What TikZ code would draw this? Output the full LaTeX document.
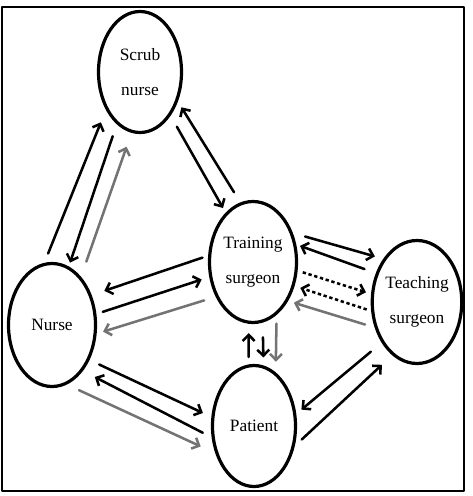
\documentclass[tikz,border=0pt]{standalone}
\usepackage{fontspec}
\setmainfont{Liberation Serif}
\usetikzlibrary{arrows.meta,shapes.geometric}

\begin{document}
\begin{tikzpicture}[x=0.75pt, y=-0.75pt, line cap=round, line join=round,
		>={Straight Barb[length=4.5pt,width=9pt]},
		actor/.style={ellipse, draw, line width=2.4pt, inner sep=0pt, align=center,
			font=\fontsize{13}{26.5}\selectfont},
		flowline/.style={->, line width=1.9pt},
		flowgray/.style={->, line width=1.9pt, black!55},
		flowdot/.style={->, line width=1.9pt, line cap=butt, dash pattern=on 2.5pt off 2pt}]
		\useasboundingbox (0,0) rectangle (472,496);
		% frame
		\draw [line width=1.6pt, line cap=butt] (2,7) rectangle (464,491);
		% actors
		\node [actor, minimum width=62.25pt, minimum height=90.75pt] (scrub) at (140,72) {Scrub\\nurse};
		\node [actor, minimum width=65.25pt, minimum height=90.75pt] (training) at (253,262) {Training\\surgeon};
		\node [actor, minimum width=65.25pt, minimum height=92.25pt] (teaching) at (417,302) {Teaching\\surgeon};
		\node [actor, minimum width=65.25pt, minimum height=92.25pt] (nurse) at (52,325) {Nurse};
		\node [actor, minimum width=62.25pt, minimum height=90.75pt] (patient) at (254,426) {Patient};
		% nurse and scrub nurse
		\draw [flowline, shorten <=7.5pt, shorten >=10pt] (nurse.97) -- (scrub.228);
		\draw [flowline, shorten <=9.5pt, shorten >=3pt] (scrub.246) -- (nurse.74);
		\draw [flowgray, shorten <=12pt, shorten >=11pt] (nurse.59) -- (scrub.262);
		% scrub nurse and training surgeon
		\draw [flowline, shorten <=9.5pt, shorten >=4pt] (scrub.305) -- (training.119);
		\draw [flowline, shorten <=9pt, shorten >=5pt] (training.102) -- (scrub.322);
		% training and teaching surgeon
		\draw [flowline, shorten <=9.5pt, shorten >=6.5pt] (training.36) -- (teaching.128);
		\draw [flowline, shorten <=9pt, shorten >=3pt] (teaching.145) -- (training.22);
		\draw [flowdot, shorten <=4pt, shorten >=4pt] (training.349) -- (teaching.170);
		\draw [flowdot, shorten <=3.5pt, shorten >=4.5pt] (teaching.191) -- (training.330);
		\draw [flowgray, shorten <=7.5pt, shorten >=4.5pt] (teaching.211) -- (training.312);
		% training surgeon and patient
		\draw [flowline, shorten <=5.5pt, shorten >=7pt] (patient.95) -- (training.266);
		\draw [flowline, shorten <=11pt, shorten >=6pt] (training.279) -- (patient.81);
		\draw [flowgray, shorten <=6.5pt, shorten >=8pt] (training.294) -- (patient.68);
		% nurse and training surgeon
		\draw [flowline, shorten <=4.5pt, shorten >=10pt] (training.172) -- (nurse.37);
		\draw [flowline, shorten <=5pt, shorten >=6pt] (nurse.14) -- (training.199);
		\draw [flowgray, shorten <=9pt, shorten >=5pt] (training.223) -- (nurse.349);
		% nurse and patient
		\draw [flowline, shorten <=8pt, shorten >=7pt] (nurse.317) -- (patient.168);
		\draw [flowline, shorten <=7.5pt, shorten >=10pt] (patient.195) -- (nurse.304);
		\draw [flowgray, shorten <=10pt, shorten >=12pt] (nurse.284) -- (patient.215);
		% patient and teaching surgeon
		\draw [flowline, shorten <=10.5pt, shorten >=5pt] (teaching.229) -- (patient.16);
		\draw [flowline, shorten <=7pt, shorten >=10.5pt] (patient.334) -- (teaching.245);
	\end{tikzpicture}
\end{document}
